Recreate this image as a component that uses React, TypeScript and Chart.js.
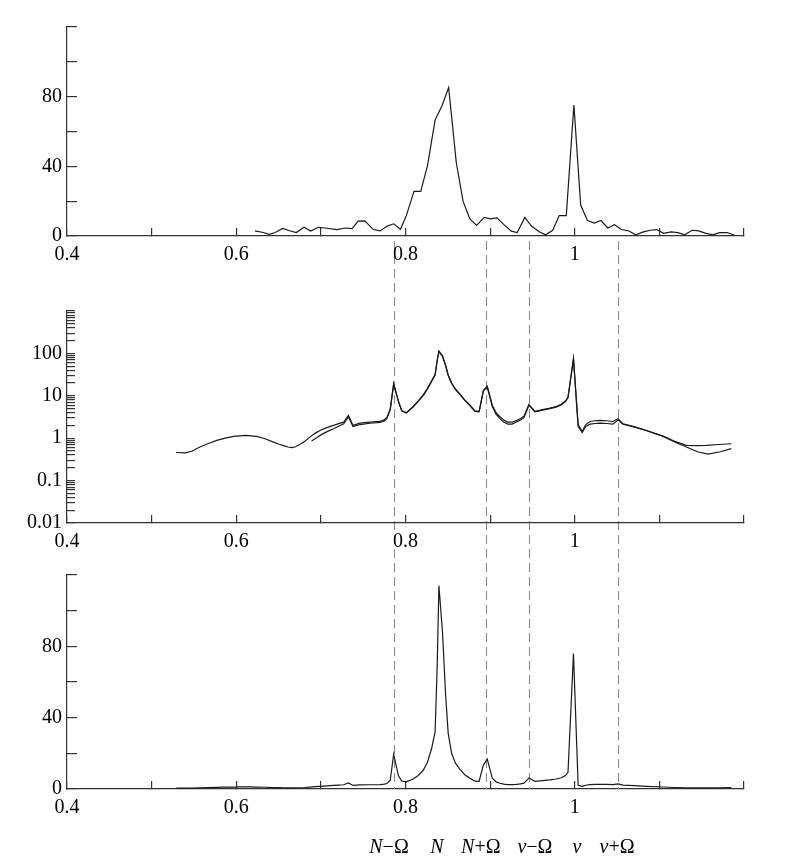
import React, { useEffect, useRef } from 'react';
import { Chart, registerables } from 'chart.js';

Chart.register(...registerables);

const W = 787;
const H = 867;

// ---------- Panel 1 (linear, noisy spectrum) ----------
const p1X = [0.622, 0.632, 0.639, 0.646, 0.655, 0.663, 0.671, 0.680, 0.688, 0.697, 0.705, 0.719, 0.729, 0.737, 0.744, 0.752, 0.762, 0.770, 0.7785, 0.786, 0.794, 0.801, 0.810, 0.818, 0.826, 0.835, 0.843, 0.851, 0.860, 0.868, 0.876, 0.884, 0.893, 0.900, 0.908, 0.916, 0.925, 0.932, 0.941, 0.949, 0.958, 0.9655, 0.974, 0.9816, 0.990, 0.999, 1.007, 1.015, 1.023, 1.031, 1.039, 1.047, 1.055, 1.064, 1.072, 1.081, 1.0895, 1.097, 1.105, 1.114, 1.122, 1.130, 1.1386, 1.1465, 1.155, 1.163, 1.171, 1.180, 1.189];
const p1Y = [2.9, 2.0, 0.9, 2.0, 4.3, 3.0, 2.0, 5.0, 2.8, 5.0, 4.6, 3.7, 4.6, 4.3, 8.5, 8.7, 3.7, 2.9, 5.7, 7.0, 3.9, 11.7, 25.6, 25.6, 40.4, 66.7, 74.6, 85.2, 42.2, 20.0, 9.8, 6.1, 10.7, 9.8, 10.4, 6.7, 2.8, 2.0, 10.7, 5.6, 2.4, 0.7, 3.3, 11.7, 11.7, 75.2, 17.8, 8.9, 7.4, 8.9, 4.6, 6.5, 3.7, 2.9, 0.7, 2.4, 3.3, 3.7, 1.5, 2.4, 1.9, 0.7, 3.3, 2.9, 1.5, 0.7, 1.9, 2.0, 0.4];

// ---------- Panel 2 curve A (also drawn linearly in panel 3) ----------
const aX = [0.529, 0.540, 0.548, 0.557, 0.567, 0.577, 0.587, 0.597, 0.604, 0.611, 0.617, 0.624, 0.634, 0.644, 0.650, 0.656, 0.661, 0.666, 0.670, 0.675, 0.681, 0.687, 0.693, 0.699, 0.707, 0.715, 0.721, 0.727, 0.7325, 0.738, 0.746, 0.758, 0.770, 0.775, 0.778, 0.782, 0.786, 0.7915, 0.7955, 0.801, 0.809, 0.815, 0.821, 0.826, 0.831, 0.835, 0.8375, 0.8395, 0.8437, 0.8475, 0.8505, 0.8545, 0.859, 0.8644, 0.870, 0.876, 0.882, 0.887, 0.892, 0.8966, 0.9026, 0.907, 0.9116, 0.916, 0.921, 0.926, 0.931, 0.936, 0.940, 0.9458, 0.953, 0.962, 0.9706, 0.978, 0.984, 0.989, 0.992, 0.9985, 1.004, 1.0088, 1.013, 1.018, 1.024, 1.030, 1.038, 1.045, 1.0512, 1.057, 1.071, 1.085, 1.104, 1.118, 1.132, 1.145, 1.156, 1.170, 1.185];
const aY = [0.46, 0.45, 0.50, 0.62, 0.75, 0.89, 1.0, 1.10, 1.14, 1.16, 1.14, 1.10, 0.97, 0.81, 0.73, 0.67, 0.62, 0.60, 0.63, 0.71, 0.85, 1.06, 1.3, 1.52, 1.78, 2.0, 2.2, 2.39, 3.43, 2.0, 2.26, 2.39, 2.5, 2.7, 3.1, 4.9, 19.5, 7.7, 4.5, 4.0, 5.6, 7.6, 10.5, 15, 23, 32, 70, 114, 88, 52, 31, 20, 14.5, 11, 8.0, 6.1, 4.4, 4.3, 13.4, 16.8, 6.0, 4.0, 3.2, 2.7, 2.4, 2.4, 2.6, 2.9, 3.3, 6.2, 4.3, 4.7, 5.1, 5.6, 6.3, 7.5, 9.2, 76, 2.1, 1.44, 2.1, 2.48, 2.58, 2.62, 2.58, 2.48, 2.87, 2.19, 1.85, 1.52, 1.12, 0.85, 0.68, 0.67, 0.68, 0.71, 0.74];

// ---------- Panel 2 curve B ----------
const bX = [0.689, 0.695, 0.701, 0.708, 0.715, 0.721, 0.727, 0.7325, 0.738, 0.746, 0.758, 0.770, 0.775, 0.778, 0.782, 0.786, 0.7915, 0.7955, 0.801, 0.809, 0.815, 0.821, 0.826, 0.831, 0.835, 0.8375, 0.8395, 0.8437, 0.8475, 0.8505, 0.8545, 0.859, 0.8644, 0.870, 0.876, 0.882, 0.887, 0.892, 0.8966, 0.9026, 0.907, 0.9116, 0.916, 0.921, 0.926, 0.931, 0.936, 0.940, 0.9458, 0.953, 0.962, 0.9706, 0.978, 0.984, 0.989, 0.992, 0.9985, 1.004, 1.0088, 1.013, 1.018, 1.024, 1.030, 1.038, 1.045, 1.0512, 1.057, 1.071, 1.085, 1.104, 1.118, 1.132, 1.145, 1.1575, 1.172, 1.185];
const bY = [0.86, 1.03, 1.23, 1.45, 1.67, 1.92, 2.19, 3.2, 1.89, 2.1, 2.25, 2.35, 2.55, 2.9, 4.7, 18.5, 7.5, 4.4, 3.9, 5.4, 7.4, 10.2, 14.5, 22, 31, 68, 110, 85, 50, 30, 19.5, 14, 10.7, 7.8, 5.9, 4.3, 4.2, 13, 16.3, 5.6, 3.7, 2.9, 2.4, 2.15, 2.15, 2.4, 2.7, 3.05, 6.0, 4.2, 4.6, 5.0, 5.4, 6.1, 7.3, 9.0, 73, 1.9, 1.36, 1.9, 2.14, 2.22, 2.26, 2.22, 2.14, 2.7, 2.14, 1.82, 1.5, 1.12, 0.82, 0.62, 0.48, 0.42, 0.48, 0.57];

// ---------- Axes ----------
const xTicks = [0.4, 0.5, 0.6, 0.7, 0.8, 0.9, 1.0, 1.1, 1.2];
const xLabels = [0.4, 0.6, 0.8, 1.0];
const linTicks = [0, 20, 40, 60, 80, 100, 120];
const linLabels = [0, 40, 80];
const logDecades = [0.01, 0.1, 1, 10, 100];
const logMultipliers = [1, 2, 3, 4, 5, 6, 7, 8, 9];
const logMax = 1000;
const logLabels = [0.01, 0.1, 1, 10, 100];

// ---------- Markers ----------
const markerX = [0.786, 0.8954, 0.9458, 1.0512];
const annotX = [0.7805, 0.837, 0.889, 0.953, 1.0025, 1.05];
const annotParts = [
  [{ t: 'N', i: true }, { t: '\u2212\u03A9', i: false }],
  [{ t: 'N', i: true }],
  [{ t: 'N', i: true }, { t: '+\u03A9', i: false }],
  [{ t: '\u03BD', i: true }, { t: '\u2212\u03A9', i: false }],
  [{ t: '\u03BD', i: true }],
  [{ t: '\u03BD', i: true }, { t: '+\u03A9', i: false }],
];

const FAMILY = '"Liberation Serif", "Times New Roman", serif';
const FONT = { family: FAMILY, size: 20 };
const AXIS = '#333333';
const LINE = '#1a1a1a';

const has = (arr: number[], v: number) => arr.some((a) => Math.abs(a - v) < 1e-9);
const pts = (xs: number[], ys: number[]) => xs.map((x, i) => ({ x, y: ys[i] }));

function xScale() {
  return {
    type: 'linear',
    min: 0.4,
    max: 1.2,
    afterBuildTicks: (s: any) => {
      s.ticks = xTicks.map((v) => ({ value: v }));
    },
    afterFit: (s: any) => {
      s.height = 40;
    },
    grid: { drawOnChartArea: false, drawTicks: true, tickLength: -8, color: AXIS, lineWidth: 1.2 },
    border: { display: true, color: AXIS, width: 1.2 },
    ticks: {
      autoSkip: false,
      maxRotation: 0,
      minRotation: 0,
      padding: 15,
      color: '#000',
      font: FONT,
      callback: (v: any) => (has(xLabels, Number(v)) ? String(Number(v)) : ''),
    },
  };
}

function linYScale() {
  return {
    type: 'linear',
    min: 0,
    max: 120,
    afterBuildTicks: (s: any) => {
      s.ticks = linTicks.map((v) => ({ value: v }));
    },
    afterFit: (s: any) => {
      s.width = 60;
    },
    grid: { drawOnChartArea: false, drawTicks: true, tickLength: -10, color: AXIS, lineWidth: 1.2 },
    border: { display: true, color: AXIS, width: 1.2 },
    ticks: {
      autoSkip: false,
      padding: 15,
      color: '#000',
      font: FONT,
      callback: (v: any) => (has(linLabels, Number(v)) ? String(Number(v)) : ''),
    },
  };
}

function logYScale() {
  const ticks: number[] = [];
  logDecades.forEach((d) => logMultipliers.forEach((m) => ticks.push(Number((d * m).toPrecision(6)))));
  ticks.push(logMax);
  return {
    type: 'logarithmic',
    min: 0.01,
    max: logMax,
    afterBuildTicks: (s: any) => {
      s.ticks = ticks.map((v) => ({ value: v }));
    },
    afterFit: (s: any) => {
      s.width = 60;
    },
    grid: { drawOnChartArea: false, drawTicks: true, tickLength: -8, color: AXIS, lineWidth: 1.2 },
    border: { display: true, color: AXIS, width: 1.2 },
    ticks: {
      autoSkip: false,
      padding: 13,
      color: '#000',
      font: FONT,
      callback: (v: any) => (has(logLabels, Number(v)) ? String(Number(v)) : ''),
    },
  };
}

function lineDs(data: any[]) {
  return {
    data,
    borderColor: LINE,
    borderWidth: 1.2,
    pointRadius: 0,
    tension: 0,
    fill: false,
  };
}

function baseOptions(padding: any, yScale: any) {
  return {
    responsive: false,
    animation: false,
    events: [],
    devicePixelRatio: 1,
    layout: { padding, autoPadding: false },
    plugins: { legend: { display: false }, tooltip: { enabled: false }, title: { display: false } },
    scales: { x: xScale(), y: yScale },
  };
}

const markerPlugin = {
  id: 'markers',
  beforeDatasetsDraw(chart: any) {
    const ctx = chart.ctx;
    const xs = chart.scales.x;
    ctx.save();
    ctx.strokeStyle = '#8a8a8a';
    ctx.lineWidth = 1.1;
    ctx.setLineDash([9, 5]);
    markerX.forEach((v) => {
      const px = Math.round(xs.getPixelForValue(v)) + 0.5;
      ctx.beginPath();
      ctx.moveTo(px, 241);
      ctx.lineTo(px, chart.chartArea.bottom);
      ctx.stroke();
    });
    ctx.restore();
  },
  afterDraw(chart: any) {
    const ctx = chart.ctx;
    const xs = chart.scales.x;
    ctx.save();
    ctx.fillStyle = '#000';
    ctx.textBaseline = 'alphabetic';
    ctx.textAlign = 'left';
    annotX.forEach((v, k) => {
      const parts = annotParts[k];
      const fonts = parts.map((p) => (p.i ? 'italic ' : '') + '20px ' + FAMILY);
      const widths = parts.map((p, j) => {
        ctx.font = fonts[j];
        return ctx.measureText(p.t).width;
      });
      const total = widths.reduce((a, b) => a + b, 0);
      let x = xs.getPixelForValue(v) - total / 2;
      parts.forEach((p, j) => {
        ctx.font = fonts[j];
        ctx.fillText(p.t, x, 853);
        x += widths[j];
      });
    });
    ctx.restore();
  },
};

export default function App() {
  const r1 = useRef<HTMLCanvasElement>(null);
  const r2 = useRef<HTMLCanvasElement>(null);
  const r3 = useRef<HTMLCanvasElement>(null);

  useEffect(() => {
    const c3 = new Chart(r3.current as HTMLCanvasElement, {
      type: 'line',
      data: { datasets: [lineDs(pts(aX, aY))] },
      options: baseOptions({ left: 7, right: 43, top: 575, bottom: 38 }, linYScale()) as any,
      plugins: [markerPlugin],
    } as any);
    const c2 = new Chart(r2.current as HTMLCanvasElement, {
      type: 'line',
      data: { datasets: [lineDs(pts(aX, aY)), lineDs(pts(bX, bY))] },
      options: baseOptions({ left: 7, right: 43, top: 311, bottom: 304 }, logYScale()) as any,
    } as any);
    const c1 = new Chart(r1.current as HTMLCanvasElement, {
      type: 'line',
      data: { datasets: [lineDs(pts(p1X, p1Y))] },
      options: baseOptions({ left: 7, right: 43, top: 21, bottom: 591 }, linYScale()) as any,
    } as any);
    return () => {
      c1.destroy();
      c2.destroy();
      c3.destroy();
    };
  }, []);

  const abs: React.CSSProperties = { position: 'absolute', left: 0, top: 0, width: W, height: H };
  return (
    <div style={{ position: 'fixed', left: 0, top: 0, width: W, height: H, background: '#fff' }}>
      <canvas ref={r3} width={W} height={H} style={abs} />
      <canvas ref={r2} width={W} height={H} style={abs} />
      <canvas ref={r1} width={W} height={H} style={abs} />
    </div>
  );
}
